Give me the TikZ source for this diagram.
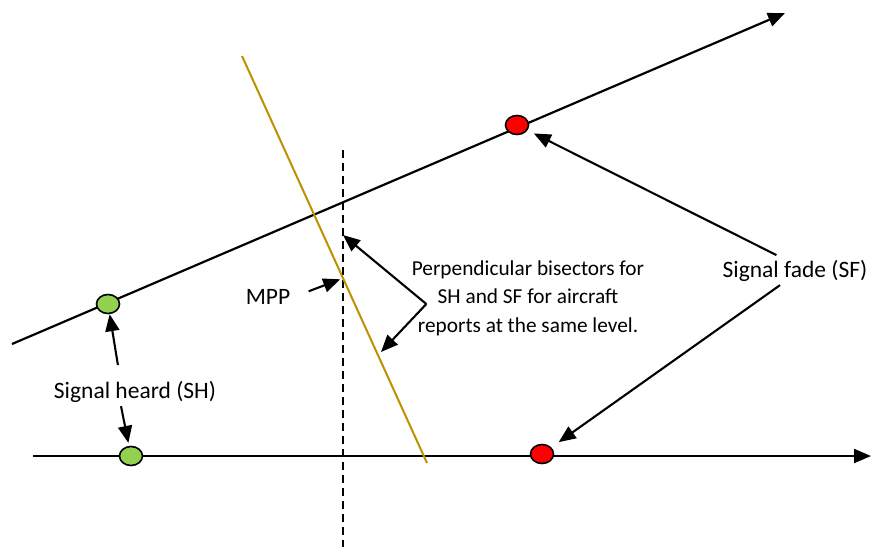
\documentclass[tikz,border=0pt]{standalone}
\usepackage{fontspec}
\setmainfont{Carlito}
\usetikzlibrary{arrows.meta, positioning, shapes.geometric, calc}
\definecolor{bisectgold}{RGB}{191,144,0}
\definecolor{heardgreen}{RGB}{146,208,80}

\begin{document}
\begin{tikzpicture}[x=1pt, y=-1pt,
    track/.style={line width=2.2pt, -{Triangle[length=17pt,width=14pt]}},
    pointer/.style={line width=2.1pt, -{Triangle[length=17pt,width=14pt]}},
    report/.style={ellipse, draw, line width=1.6pt, minimum width=23pt, minimum height=19pt, inner sep=0pt},
    note/.style={font=\fontsize{23.5}{28}\selectfont, align=center}]
    \useasboundingbox (0,0) rectangle (874,547);
    % aircraft tracks
    \coordinate (upstart) at (12,344);
    \coordinate (upend) at (785,13);
    \coordinate (lowstart) at (33,456);
    \coordinate (lowend) at (871,456);
    \draw[track] (upstart) -- (upend);
    \draw[track] (lowstart) -- (lowend);
    % perpendicular bisectors
    \coordinate (dashtop) at (343,150);
    \coordinate (dashbot) at (343,547);
    \coordinate (goldtop) at (242,56);
    \coordinate (goldbot) at (427,463);
    \draw[line width=2pt, dash pattern=on 8pt off 5pt] (dashtop) -- (dashbot);
    \draw[bisectgold, line width=2pt] (goldtop) -- (goldbot);
    \coordinate (mpp) at (intersection of dashtop--dashbot and goldtop--goldbot);
    % reports: SH green, SF red
    \node[report, fill=heardgreen] (shup) at (108,304) {};
    \node[report, fill=heardgreen] (shlow) at (131,456) {};
    \node[report, fill=red] (sfup) at (517,125) {};
    \node[report, fill=red] (sflow) at (542,454) {};
    % labels
    \node[note] (shtext) at (135,392) {Signal heard (SH)};
    \node[note] (sftext) at (795,271) {Signal fade (SF)};
    \node[note] (mpptext) at (268,297) {MPP};
    \node[note, font=\fontsize{21.3}{28.5}\selectfont] (bisect) at (528,298) {Perpendicular bisectors for\\SH and SF for aircraft\\reports at the same level.};
    % pointers
    \draw[pointer, shorten <=13pt] ([xshift=-15pt]shtext.north) -- (shup);
    \draw[pointer, shorten >=3pt] ([xshift=-14pt]shtext.south) -- (shlow);
    \draw[pointer, shorten <=4pt, shorten >=7pt] ([xshift=-15pt]sftext.north) -- (sfup);
    \draw[pointer, shorten >=9pt] ([xshift=-15pt]sftext.south) -- (sflow);
    \draw[pointer, shorten <=16pt, shorten >=3pt] (mpptext.east) -- (mpp);
    \coordinate (fork) at ($(bisect.west)+(18,6)$);
    \coordinate (ondash) at (343,235);
    \coordinate (ongold) at (381,352);
    \draw[pointer] (fork) -- (ondash);
    \draw[pointer] (fork) -- (ongold);
\end{tikzpicture}
\end{document}
